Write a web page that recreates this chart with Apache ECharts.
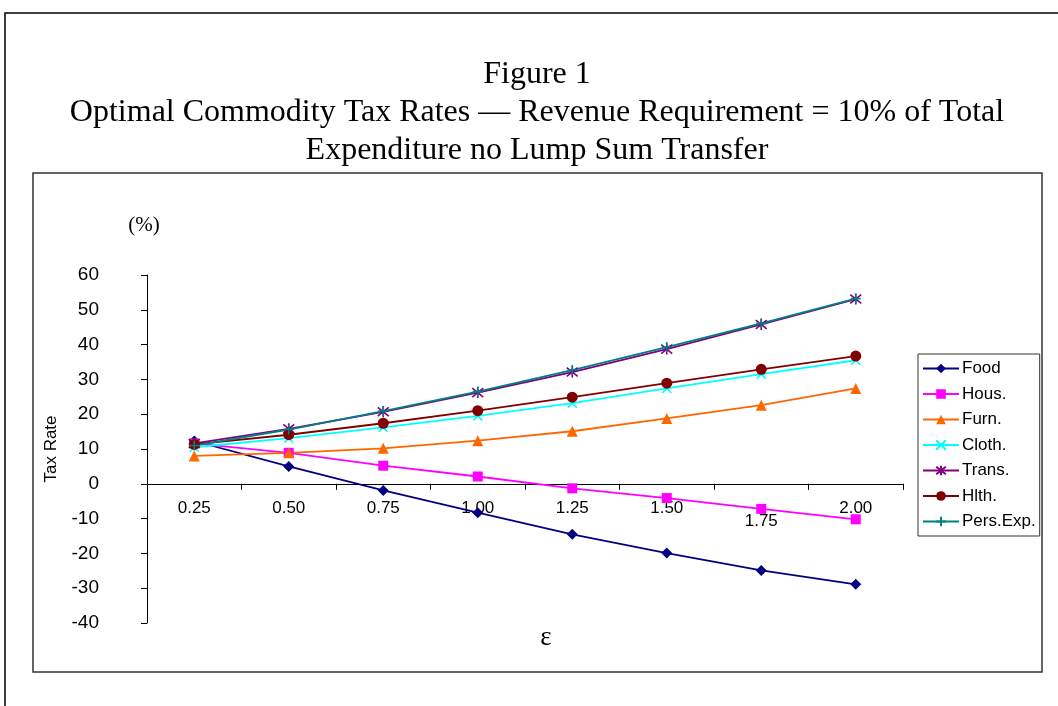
<!DOCTYPE html>
<html>
<head>
<meta charset="utf-8">
<style>
  html, body { margin: 0; padding: 0; background: #fff; }
  #chart { width: 1058px; height: 706px; }
</style>
<script src="https://cdn.jsdelivr.net/npm/echarts@6/dist/echarts.min.js"></script>
</head>
<body>
<div id="chart"></div>
<script>
// epsilon values on the x axis
var epsilon = ['0.25', '0.50', '0.75', '1.00', '1.25', '1.50', '1.75', '2.00'];

// tax rates (%)
var food     = [12.3, 5.0, -1.9, -8.3, -14.5, -19.9, -24.9, -28.9];
var hous     = [11.6, 8.9, 5.2, 2.1, -1.3, -4.1, -7.2, -10.2];
var furn     = [8.0, 8.9, 10.2, 12.4, 15.1, 18.8, 22.6, 27.4];
var cloth    = [10.5, 13.1, 16.2, 19.5, 23.2, 27.4, 31.5, 35.5];
var trans    = [11.6, 15.8, 20.7, 26.2, 32.1, 38.7, 45.8, 53.1];
var hlth     = [11.3, 14.1, 17.4, 21.0, 24.9, 28.9, 32.9, 36.7];
var persExp  = [11.0, 15.6, 20.9, 26.5, 32.7, 39.3, 46.1, 53.2];

var sans = 'Liberation Sans, Arial, sans-serif';
var serif = 'Liberation Serif, Times New Roman, serif';

function mk(name, data, color, symbol, size, stroke) {
    return {
        name: name,
        type: 'line',
        data: data,
        symbol: symbol,
        symbolSize: size,
        lineStyle: { color: color, width: 1.8 },
        itemStyle: {
            color: color,
            borderColor: color,
            borderWidth: stroke ? 1.6 : 0
        },
        emphasis: { disabled: true },
        animation: false
    };
}

var myChart = echarts.init(document.getElementById('chart'));
myChart.setOption({
    backgroundColor: '#fff',
    animation: false,
    graphic: [
        { type: 'rect', shape: { x: 5, y: 13, width: 1100, height: 800 },
          style: { fill: 'none', stroke: '#000', lineWidth: 1.5 }, silent: true },
        { type: 'rect', shape: { x: 33, y: 173, width: 1009, height: 499 },
          style: { fill: 'none', stroke: '#333', lineWidth: 1.5 }, silent: true },
        { type: 'text', x: 537, y: 75,
          style: { text: 'Figure 1', font: '32px ' + serif, fill: '#000', align: 'center', verticalAlign: 'middle' } },
        { type: 'text', x: 537, y: 113,
          style: { text: 'Optimal Commodity Tax Rates \u2014 Revenue Requirement = 10% of Total', font: '32px ' + serif, fill: '#000', align: 'center', verticalAlign: 'middle' } },
        { type: 'text', x: 537, y: 151,
          style: { text: 'Expenditure no Lump Sum Transfer', font: '32px ' + serif, fill: '#000', align: 'center', verticalAlign: 'middle' } },
        { type: 'text', x: 144, y: 225,
          style: { text: '(%)', font: '21px ' + serif, fill: '#000', align: 'center', verticalAlign: 'middle' } },
        { type: 'text', x: 546, y: 638,
          style: { text: '\u03b5', font: '27px ' + serif, fill: '#000', align: 'center', verticalAlign: 'middle' } }
    ],
    legend: {
        orient: 'vertical',
        left: 918,
        top: 354,
        padding: [6, 4, 6, 4],
        itemWidth: 36,
        itemHeight: 12,
        itemGap: 8.5,
        borderColor: '#333',
        borderWidth: 1,
        textStyle: { fontFamily: sans, fontSize: 17, color: '#000', padding: [0, 0, 0, -2] },
        data: ['Food', 'Hous.', 'Furn.', 'Cloth.', 'Trans.', 'Hlth.', 'Pers.Exp.']
    },
    grid: {
        left: 147,
        right: 155,
        top: 275,
        bottom: 83,
        containLabel: false
    },
    xAxis: {
        type: 'category',
        data: epsilon,
        boundaryGap: true,
        // axis sits at y = 0, i.e. 40 of the 100 units up from the bottom (348px plot)
        offset: -139.2,
        axisLine: { onZero: false, lineStyle: { color: '#000', width: 1 } },
        axisTick: { show: true, interval: 0, length: 6, lineStyle: { color: '#000' } },
        axisLabel: {
            interval: 0,
            hideOverlap: false,
            margin: 16,
            fontFamily: sans,
            fontSize: 17,
            color: '#000',
            formatter: function (v) {
                return v === '1.75' ? '{low|' + v + '}' : v;
            },
            rich: {
                low: { padding: [13, 0, 0, 0], fontFamily: sans, fontSize: 17, color: '#000' }
            }
        },
        splitLine: { show: false }
    },
    yAxis: {
        type: 'value',
        min: -40,
        max: 60,
        interval: 10,
        name: 'Tax Rate',
        nameLocation: 'middle',
        nameGap: 87,
        nameTextStyle: { fontFamily: sans, fontSize: 17, color: '#000' },
        axisLine: { show: true, lineStyle: { color: '#000', width: 1 } },
        axisTick: { show: true, length: 6, lineStyle: { color: '#000' } },
        axisLabel: { margin: 48, fontFamily: sans, fontSize: 19, color: '#000' },
        splitLine: { show: false }
    },
    series: [
        mk('Food', food, '#000080', 'diamond', 11, false),
        mk('Hous.', hous, '#FF00FF', 'rect', 10, false),
        mk('Furn.', furn, '#FF6600', 'triangle', 11, false),
        mk('Cloth.', cloth, '#00FFFF', 'path://M0,0L10,10M10,0L0,10', 9, true),
        mk('Trans.', trans, '#800080', 'path://M5,0L5,10M1,1L9,9M9,1L1,9', 11, true),
        mk('Hlth.', hlth, '#800000', 'circle', 11, false),
        mk('Pers.Exp.', persExp, '#008080', 'path://M5,0L5,10M0,5L10,5', 10, true)
    ]
});
</script>
</body>
</html>
